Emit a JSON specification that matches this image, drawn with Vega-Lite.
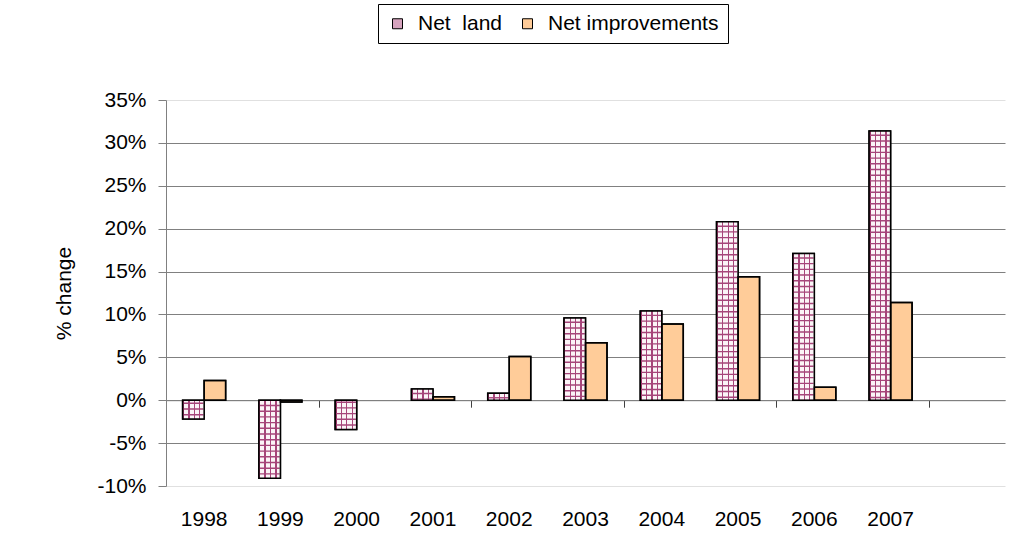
{
  "$schema": "https://vega.github.io/schema/vega-lite/v6.json",
  "width": 839,
  "height": 386,
  "autosize": "none",
  "padding": {"left": 166, "top": 100, "right": 10, "bottom": 68},
  "background": "white",
  "config": {
    "view": {"stroke": null},
    "font": "Liberation Sans",
    "axis": {"labelFont": "Liberation Sans", "titleFont": "Liberation Sans"},
    "legend": {"labelFont": "Liberation Sans"}
  },
  "data": {
    "values": [
      {"year": "1998", "series": "Net  land", "value": -0.022},
      {"year": "1998", "series": "Net improvements", "value": 0.023},
      {"year": "1999", "series": "Net  land", "value": -0.091},
      {"year": "1999", "series": "Net improvements", "value": -0.002},
      {"year": "2000", "series": "Net  land", "value": -0.034},
      {"year": "2001", "series": "Net  land", "value": 0.013},
      {"year": "2001", "series": "Net improvements", "value": 0.004},
      {"year": "2002", "series": "Net  land", "value": 0.008},
      {"year": "2002", "series": "Net improvements", "value": 0.051},
      {"year": "2003", "series": "Net  land", "value": 0.096},
      {"year": "2003", "series": "Net improvements", "value": 0.067},
      {"year": "2004", "series": "Net  land", "value": 0.104},
      {"year": "2004", "series": "Net improvements", "value": 0.089},
      {"year": "2005", "series": "Net  land", "value": 0.208},
      {"year": "2005", "series": "Net improvements", "value": 0.144},
      {"year": "2006", "series": "Net  land", "value": 0.171},
      {"year": "2006", "series": "Net improvements", "value": 0.015},
      {"year": "2007", "series": "Net  land", "value": 0.314},
      {"year": "2007", "series": "Net improvements", "value": 0.114}
    ]
  },
  "resolve": {"axis": {"x": "independent", "y": "independent"}},
  "layer": [
    {
      "mark": {"type": "bar", "stroke": "black", "strokeWidth": 1.5},
      "encoding": {
        "x": {
          "field": "year", "type": "nominal",
          "scale": {"domain": ["1998","1999","2000","2001","2002","2003","2004","2005","2006","2007","2008"], "paddingInner": 0.436, "paddingOuter": 0.218},
          "axis": {"orient": "bottom", "title": null, "domain": false, "ticks": false, "labelAngle": 0, "labelFontSize": 21, "labelColor": "black", "labelPadding": 22, "labelExpr": "datum.value === '2008' ? '' : datum.label"}
        },
        "xOffset": {"field": "series", "type": "nominal", "scale": {"domain": ["Net  land", "Net improvements"], "paddingInner": 0, "paddingOuter": 0}},
        "y": {
          "field": "value", "type": "quantitative",
          "scale": {"domain": [-0.1, 0.35], "nice": false, "zero": false},
          "axis": {
            "orient": "left",
            "title": "% change", "titleFontSize": 21, "titleFontWeight": "normal", "titleColor": "black", "titlePadding": 22,
            "values": [-0.1,-0.05,0,0.05,0.1,0.15,0.2,0.25,0.3,0.35],
            "format": ".0%", "labelExpr": "replace(datum.label, '\u2212', '-')",
            "labelFontSize": 21, "labelColor": "black", "labelPadding": 12,
            "domainColor": "#808080", "tickColor": "#808080", "tickSize": 8,
            "grid": true,
            "gridColor": {"condition": {"test": "datum.value > 0.34 || datum.value < -0.09", "value": "#e0e0e0"}, "value": "#808080"}
          }
        },
        "fill": {
          "field": "series", "type": "nominal",
          "scale": {"domain": ["Net  land", "Net improvements"], "range": ["#d6a3be", "#FFCC99"]},
          "legend": {
            "title": null, "orient": "none", "legendX": 212, "legendY": -96, "direction": "horizontal",
            "strokeColor": "black", "fillColor": "white", "padding": 9,
            "labelFontSize": 21, "labelColor": "black", "labelLimit": 400, "symbolType": "square", "symbolSize": 100,
            "labelExpr": "datum.value === 'Net  land' ? 'Net\u00a0\u00a0land' : datum.label",
            "symbolStrokeColor": "black", "symbolStrokeWidth": 1, "labelOffset": 10, "columnPadding": 14
          }
        }
      }
    },
    {
      "transform": [{"filter": "datum.series === 'Net  land'"}],
      "mark": {
        "type": "bar",
        "fill": {
          "gradient": "linear", "x1": 0, "y1": 0, "x2": 1, "y2": 0,
          "stops": [
            {"offset": 0, "color": "#993366"}, {"offset": 0.07, "color": "#993366"},
            {"offset": 0.07, "color": "#fbf4f7"}, {"offset": 0.26, "color": "#fbf4f7"},
            {"offset": 0.26, "color": "#a6457a"}, {"offset": 0.32, "color": "#a6457a"},
            {"offset": 0.32, "color": "#fbf4f7"}, {"offset": 0.51, "color": "#fbf4f7"},
            {"offset": 0.51, "color": "#a6457a"}, {"offset": 0.57, "color": "#a6457a"},
            {"offset": 0.57, "color": "#fbf4f7"}, {"offset": 0.76, "color": "#fbf4f7"},
            {"offset": 0.76, "color": "#a6457a"}, {"offset": 0.82, "color": "#a6457a"},
            {"offset": 0.82, "color": "#fbf4f7"}, {"offset": 1, "color": "#fbf4f7"}
          ]
        }
      },
      "encoding": {
        "x": {
          "field": "year", "type": "nominal",
          "axis": {"orient": "bottom", "title": null, "labels": false, "domain": true, "domainColor": "#808080", "ticks": true, "tickColor": "#404040", "tickSize": 7, "tickOffset": -16.6, "bandPosition": 0, "offset": -85.8,
            "tickOpacity": {"condition": {"test": "indexof(['1998','2000','2002','2004','2006','2008'], datum.value) >= 0", "value": 1}, "value": 0}}
        },
        "xOffset": {"field": "series", "type": "nominal"},
        "y": {"field": "value", "type": "quantitative", "axis": null}
      }
    },
    {
      "transform": [{"filter": "datum.series === 'Net  land'"}],
      "mark": {"type": "rule", "color": "#a6457a", "strokeWidth": 20, "strokeCap": "butt", "strokeDash": [1.4, 4.3], "strokeDashOffset": 2},
      "encoding": {
        "x": {"field": "year", "type": "nominal", "axis": null},
        "xOffset": {"field": "series", "type": "nominal"},
        "y": {"field": "value", "type": "quantitative", "axis": null},
        "y2": {"datum": 0}
      }
    },
    {
      "mark": {"type": "bar", "fill": null, "fillOpacity": 0, "stroke": "black", "strokeWidth": 1.5},
      "encoding": {
        "x": {"field": "year", "type": "nominal", "axis": null},
        "xOffset": {"field": "series", "type": "nominal"},
        "y": {"field": "value", "type": "quantitative", "axis": null}
      }
    }
  ]
}
